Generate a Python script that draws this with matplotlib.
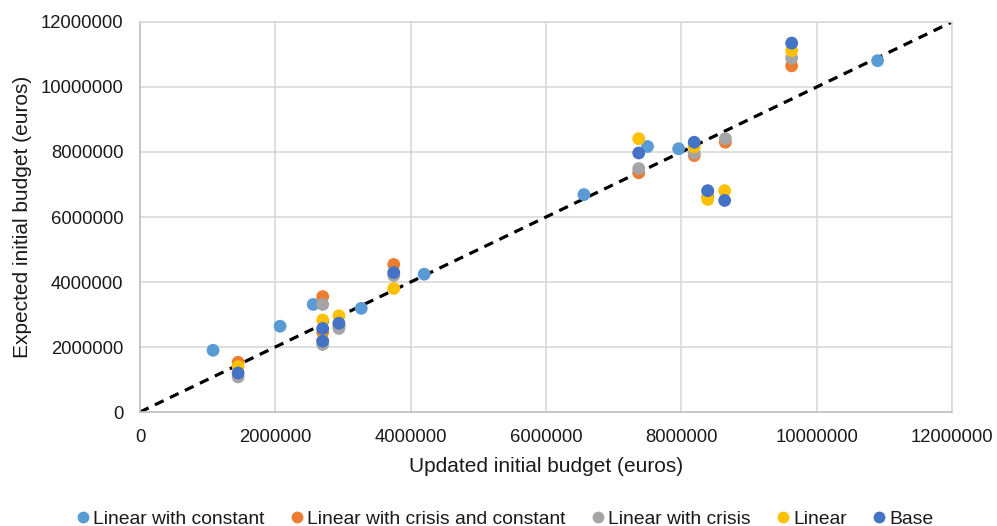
import matplotlib
matplotlib.use('Agg')
import matplotlib.pyplot as plt
from matplotlib.lines import Line2D

plt.rcParams['font.family'] = ['Liberation Sans', 'DejaVu Sans']

# valores em milhões de euros
lc_x = [1.08, 2.07, 2.56, 3.27, 4.20, 6.56, 7.50, 7.96, 10.90]
lc_y = [1.90, 2.64, 3.31, 3.19, 4.24, 6.69, 8.17, 8.10, 10.81]

lcc_x = [1.45, 2.70, 2.70, 2.94, 3.75, 7.37, 8.19, 8.39, 8.65, 9.63]
lcc_y = [1.53, 3.55, 2.46, 2.65, 4.54, 7.36, 7.89, 6.62, 8.30, 10.65]

lcr_x = [1.45, 2.70, 2.70, 2.94, 3.75, 7.37, 8.19, 8.39, 8.65, 9.63]
lcr_y = [1.08, 3.31, 2.08, 2.57, 4.20, 7.49, 7.97, 6.78, 8.41, 10.89]

lin_x = [1.45, 2.70, 2.70, 2.94, 3.75, 7.37, 8.19, 8.39, 8.64, 9.63]
lin_y = [1.40, 2.83, 2.20, 2.96, 3.80, 8.41, 8.16, 6.54, 6.81, 11.12]

base_x = [1.45, 2.70, 2.70, 2.94, 3.75, 7.37, 8.19, 8.39, 8.64, 9.63]
base_y = [1.20, 2.57, 2.18, 2.73, 4.29, 7.97, 8.30, 6.81, 6.51, 11.35]

series = [
    ('Linear with constant', lc_x, lc_y, '#5B9BD5'),
    ('Linear with crisis and constant', lcc_x, lcc_y, '#ED7D31'),
    ('Linear with crisis', lcr_x, lcr_y, '#A5A5A5'),
    ('Linear', lin_x, lin_y, '#FFC000'),
    ('Base', base_x, base_y, '#4472C4'),
]

ticks = [0, 2000000, 4000000, 6000000, 8000000, 10000000, 12000000]
cor_texto = '#1a1a1a'

fig = plt.figure(figsize=(9.97, 5.26), dpi=100)
ax = fig.add_axes([0.1404, 0.2167, 0.8145, 0.7415])

ax.plot([0, 12000000], [0, 12000000], color='black', linestyle=(0, (3, 2.2)),
        linewidth=2.3, zorder=2)

for nome, xs, ys, cor in series:
    ax.scatter([v * 1e6 for v in xs], [v * 1e6 for v in ys], s=85, color=cor,
               edgecolors='none', zorder=3, label=nome)

ax.set_xlim(0, 12000000)
ax.set_ylim(0, 12000000)
ax.set_xticks(ticks)
ax.set_yticks(ticks)
ax.set_xticklabels([str(t) for t in ticks], fontsize=13.3, color=cor_texto)
ax.set_yticklabels([str(t) for t in ticks], fontsize=13.3, color=cor_texto)
ax.tick_params(length=0, pad=12)
ax.grid(True, color='#D9D9D9', linewidth=1.2, zorder=0)
ax.set_axisbelow(True)
for s in ax.spines.values():
    s.set_color('#D9D9D9')
    s.set_linewidth(1.2)
ax.spines['left'].set_color('#BFBFBF')
ax.spines['bottom'].set_color('#BFBFBF')

ax.set_xlabel('Updated initial budget (euros)', fontsize=15, color=cor_texto, labelpad=8)
ax.set_ylabel('Expected initial budget (euros)', fontsize=15, color=cor_texto, labelpad=6)

handles = [Line2D([], [], marker='o', linestyle='none', markersize=8.5,
                  markerfacecolor=c, markeredgecolor='none', label=n)
           for n, _, _, c in series]
fig.legend(handles=handles, loc='center', bbox_to_anchor=(0.505, 0.013), ncol=5,
           frameon=False, fontsize=13.9, handletextpad=0.0, columnspacing=1.2,
           handlelength=1.0, labelcolor=cor_texto)

fig.savefig('out.png', dpi=100, facecolor='white')
